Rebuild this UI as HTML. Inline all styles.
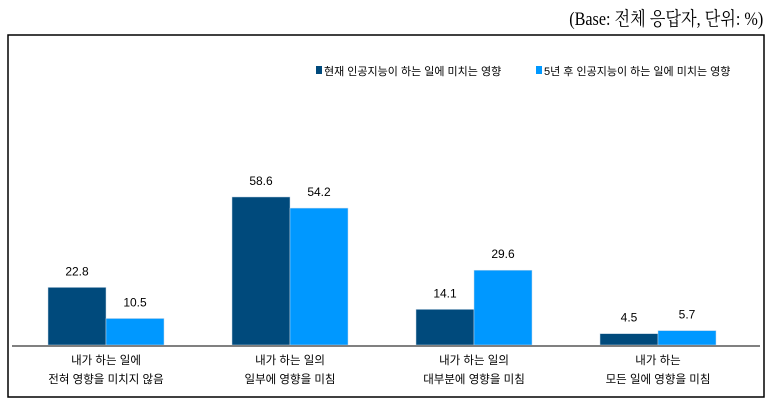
<!DOCTYPE html>
<html><head><meta charset="utf-8"><style>
body{margin:0;width:773px;height:412px;background:#fff;overflow:hidden;font-family:"Liberation Sans","Noto Sans CJK KR",sans-serif}
</style></head><body>
<div style="position:absolute;right:10px;top:4px;font-family:'Liberation Serif','Noto Serif CJK SC',serif;font-size:19px;color:#000;transform:scaleX(0.85);transform-origin:right">(Base: 전체 응답자, 단위: %)</div>
<svg width="773" height="412" style="position:absolute;left:0;top:0" id="c"></svg>
<script>
const categories=[["내가 하는 일에","전혀 영향을 미치지 않음"],["내가 하는 일의","일부에 영향을 미침"],["내가 하는 일의","대부분에 영향을 미침"],["내가 하는","모든 일에 영향을 미침"]];
const seriesNames=["현재 인공지능이 하는 일에 미치는 영향","5년 후 인공지능이 하는 일에 미치는 영향"];
const current=[22.8,58.6,14.1,4.5];
const future=[10.5,54.2,29.6,5.7];
const colors=["#004a7c","#0098ff"];
const svg=document.getElementById('c');const NS='http://www.w3.org/2000/svg';
function mk(t,a,txt){const e=document.createElementNS(NS,t);for(const k in a)e.setAttribute(k,a[k]);if(txt!=null)e.textContent=txt;svg.appendChild(e);return e;}
const base=345,scale=2.526,bw=58;
const y=v=>base-v*scale;
const gx=i=>106+i*184;
let f=mk('rect',{x:8,y:35,width:756,height:362,fill:'none',stroke:'#000','stroke-width':1.5});


[current,future].forEach((s,si)=>{s.forEach((v,i)=>{
 const x=gx(i)-bw+si*bw;
 let r=mk('rect',{x:x,y:y(v),width:bw,height:base-y(v),fill:colors[si],stroke:'#c8d8e8','stroke-width':0.5});
 
 
 let t=mk('text',{x:x+bw/2,y:y(v)-12,'text-anchor':'middle','font-size':12,fill:'#000'},v.toFixed(1));
 
 
});});
let ax=mk('line',{x1:12,x2:760,y1:base+1,y2:base+1,stroke:'#808080','stroke-width':2});


categories.forEach((c,i)=>{c.forEach((l,j)=>{
 let t=mk('text',{x:gx(i),y:364+j*19,'text-anchor':'middle','font-size':11.5,fill:'#000'},l);
 
 
});});
const lx=[316,536];
seriesNames.forEach((n,i)=>{
 let r=mk('rect',{x:lx[i],y:66,width:6,height:8,fill:colors[i]});
 
 
 let t=mk('text',{x:lx[i]+8,y:75,'font-size':11,fill:'#000'},n);
 
 
});
</script>
</body></html>
